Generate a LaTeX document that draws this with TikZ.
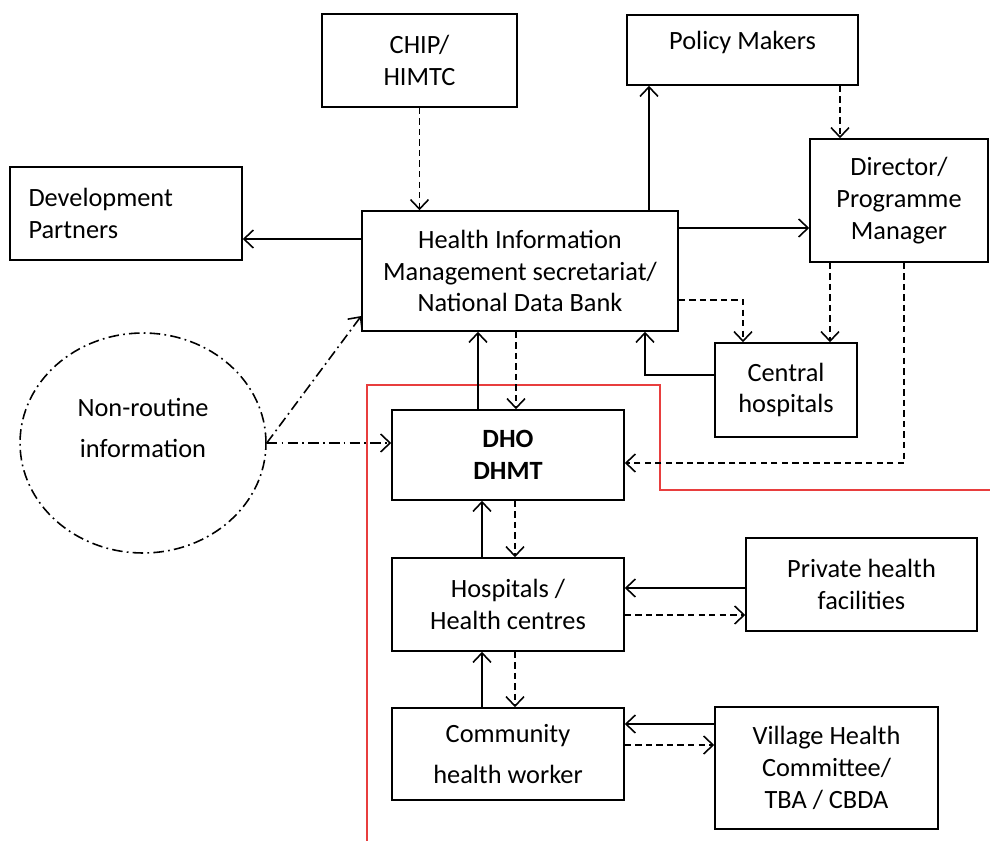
\documentclass[tikz,border=0pt]{standalone}
\usepackage{fontspec}
\setmainfont{Carlito}
\usetikzlibrary{arrows.meta,shapes.geometric}

\definecolor{district}{RGB}{232,62,62}

\tikzset{
  box/.style={draw, line width=0.9pt, align=center, inner sep=0pt},
  flow/.style={line width=0.9pt, ->},
  info/.style={line width=0.9pt, ->, dash pattern=on 3.6pt off 2.4pt},
  other/.style={line width=0.9pt, ->, dash pattern=on 6pt off 2.4pt on 1pt off 2.4pt}
}

\begin{document}
\begin{tikzpicture}[x=0.02cm, y=-0.02cm, >={Straight Barb[length=1.9mm,width=3.6mm]},
  font=\fontsize{15}{18}\selectfont]
\useasboundingbox (0,0) rectangle (990,841);

% boxes
\node[box, minimum width=3.9cm, minimum height=1.86cm] (chip) at (419.5,60.5) {CHIP/\\HIMTC};
\node[box, minimum width=4.62cm, minimum height=1.4cm, text height=0.33cm, text depth=0.34cm] (policy) at (742.5,50) {Policy Makers};
\node[box, minimum width=4.64cm, minimum height=1.86cm, text width=3.9cm, inner xsep=0.37cm, align=left] (dev) at (126,213.5) {Development\\Partners};
\node[box, minimum width=6.32cm, minimum height=2.4cm] (him) at (520,271) {Health Information\\Management secretariat/\\National Data Bank};
\node[box, minimum width=3.56cm, minimum height=2.46cm] (dir) at (899,200.5) {Director/\\Programme\\Manager};
\node[box, minimum width=2.84cm, minimum height=1.88cm] (central) at (786,390) {Central\\hospitals};
\node[box, minimum width=4.64cm, minimum height=1.8cm, font=\fontsize{15}{18}\selectfont\bfseries] (dho) at (508,455) {DHO\\DHMT};
\node[box, ellipse, minimum width=4.92cm, minimum height=4.4cm, text depth=0.6cm, dash pattern=on 6pt off 2.4pt on 1pt off 2.4pt] (nonroutine) at (143,443) {Non-routine\\[5pt]information};
\node[box, minimum width=4.64cm, minimum height=1.86cm] (hosp) at (508,604.5) {Hospitals /\\Health centres};
\node[box, minimum width=4.62cm, minimum height=1.86cm] (private) at (861.5,584.5) {Private health\\facilities};
\node[box, minimum width=4.64cm, minimum height=1.84cm] (chw) at (508,754) {Community\\[5pt]health worker};
\node[box, minimum width=4.46cm, minimum height=2.44cm] (village) at (826.5,768) {Village Health\\Committee/\\TBA / CBDA};

% district boundary
\draw[district, line width=0.7pt] (367,841) -- (367,385) -- (660,385) -- (660,490) -- (990,490);

% national level
\draw[info] (chip.south) -- (chip.south |- him.north);
\draw[flow] (him.north -| 649,0) -- (policy.south -| 649,0);
\draw[info] (policy.south -| 840,0) -- (dir.north -| 840,0);
\draw[flow] (him.east |- 0,228) -- (dir.west |- 0,228);
\draw[flow] (him.west |- 0,239) -- (dev.east |- 0,239);
\draw[info] (him.east |- 0,300) -| (central.north -| 743,0);
\draw[info] (dir.south -| 830,0) -- (central.north -| 830,0);
\draw[info] (dir.south -| 904,0) |- (dho.east |- 0,463);
\draw[flow] (central.west |- 0,375) -| (him.south -| 645,0);

% district level
\draw[flow] (dho.north -| 478,0) -- (him.south -| 478,0);
\draw[info] (him.south -| 516,0) -- (dho.north -| 516,0);
\draw[other] (nonroutine.east) -- (him.west |- 0,316);
\draw[other] (nonroutine.east) -- (dho.west |- nonroutine.east);

% facility and community level
\draw[flow] (hosp.north -| 482,0) -- (dho.south -| 482,0);
\draw[info] (dho.south -| 515,0) -- (hosp.north -| 515,0);
\draw[flow] (private.west |- 0,588) -- (hosp.east |- 0,588);
\draw[info] (hosp.east |- 0,615) -- (private.west |- 0,615);
\draw[flow] (chw.north -| 482,0) -- (hosp.south -| 482,0);
\draw[info] (hosp.south -| 515,0) -- (chw.north -| 515,0);
\draw[flow] (village.west |- 0,724) -- (chw.east |- 0,724);
\draw[info] (chw.east |- 0,745) -- (village.west |- 0,745);
\end{tikzpicture}
\end{document}
